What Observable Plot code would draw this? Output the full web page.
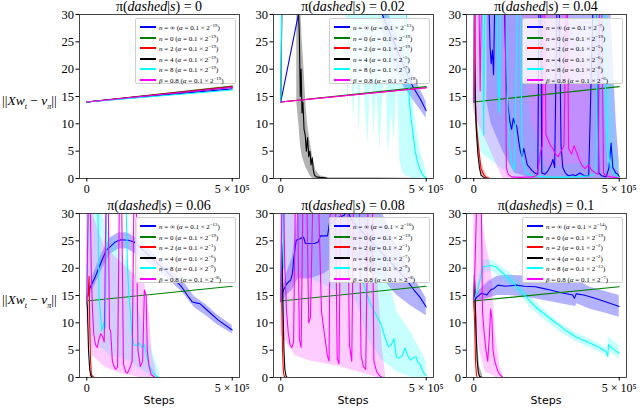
<!DOCTYPE html>
<html><head><meta charset="utf-8">
<script src="https://cdn.jsdelivr.net/npm/d3@7"></script>
<script src="https://cdn.jsdelivr.net/npm/@observablehq/plot@0.6"></script>
<style>
body{margin:0;background:#fff;}
#wrap{position:relative;width:640px;height:408px;overflow:hidden;background:#fff;}
.pl{position:absolute;}
.ttl{position:absolute;font-family:"Liberation Serif",serif;font-size:14px;line-height:14px;text-align:center;white-space:nowrap;color:#000;}
.ylab{position:absolute;font-family:"Liberation Serif",serif;font-size:13.5px;white-space:nowrap;color:#000;}
.xlab{position:absolute;font-family:"DejaVu Sans",sans-serif;font-size:11px;text-align:center;color:#000;}
.leg{position:absolute;background:rgba(255,255,255,0.82);border:1px solid #cfcfcf;border-radius:2px;box-sizing:border-box;z-index:5;}
.row{position:absolute;left:0;height:10px;white-space:nowrap;font-family:"Liberation Serif",serif;font-size:7px;color:#000;}
.sw{position:absolute;left:4px;top:4px;width:16px;height:0;border-top-width:2px;border-top-style:solid;}
.tx{position:absolute;left:23px;top:1px;line-height:10px;}
.tx sup{font-size:4.8px;vertical-align:3px;line-height:0;}
</style></head>
<body><div id="wrap"></div>
<script>
// x values in thousands of steps
// ---------- panel 1: pi(dashed|s)=0 ----------
const p1_blue = [[0,14],[500,16.4]];
const p1_green = [[0,14],[500,16.9]];
const p1_red = [[0,14],[500,16.8]];
const p1_black = [[0,14],[500,16.7]];
const p1_cyan = [[0,14],[500,16.2]];
const p1_magenta = [[0,14],[500,16.7]];

// ---------- panel 2: 0.02 ----------
const p2_blue = [[0,14],[68,32],[349,32],[349,30],[400,23.5],[453,16.9],[480,14.5],[500,12.4]];
const p2_green = [[0,14],[500,16.8]];
const p2_red = [[0,14],[500,16.6]];
const p2_black = [[0,14],[4,32],[60,32],[64,26],[67,15],[70,20],[73,12],[76,14],[80,9],[84,8],[88,5],[92,7.5],[96,4],[100,5],[104,2.5],[108,3.8],[112,1.5],[116,0.6],[122,0.3],[135,0.2],[160,0.1],[500,0]];
const p2_cyan = [[0,14],[3,32],[430,32],[438,22],[442,14],[448,11],[455,8],[462,5],[470,3],[478,1.8],[486,0.8],[494,0.3],[500,0.2]];
const p2_magenta = [[0,14],[500,16.6]];
const p2_blue_band = [[349,27,32],[380,21.5,29],[420,17,23],[460,14,18.5],[500,11,14]];
const p2_black_band = [[55,14,32],[62,10,32],[68,6,32],[74,4,25],[80,3,20],[86,2,14],[92,1.5,10],[100,0.5,7],[110,0,4],[120,0,1.5],[135,0,0.5],[160,0,0.2]];
const p2_cyan_band = [[0,14,32],[4,14,32],[6,32,32],[225,32,32],[230,12,32],[240,26,32],[250,10,32],[260,22,32],[270,8,32],[280,24,32],[290,14,32],[300,6,32],[310,20,32],[320,8,32],[330,17,32],[340,5,32],[350,14,32],[360,22,32],[370,4,32],[380,12,32],[390,7,32],[400,18,32],[410,3,32],[420,1,32],[430,0.5,28],[440,0.3,22],[450,0,16],[460,0,12],[470,0,8],[480,0,5],[490,0,3],[500,0,1.5]];

// ---------- panel 3: 0.04 ----------
const p3_blue = [[0,14],[3,32],[52,32],[56,24],[60,21],[64,23.5],[68,19],[72,32],[100,32],[106,30],[112,17],[118,13],[124,10.5],[130,9],[136,11],[142,10],[148,9.5],[154,7],[160,5],[166,4],[172,5.5],[178,4],[184,2.5],[192,2],[200,1.5],[210,1],[220,0.8],[224,32],[230,32],[234,1],[245,0.8],[256,1.5],[266,2.5],[272,3.5],[278,2],[286,32],[294,32],[300,6],[306,2],[315,1],[325,0.5],[340,0.7],[350,0.5],[365,1],[380,0.5],[395,0.5],[410,32],[424,32],[430,1],[440,0.5],[455,0.3],[465,2],[472,6.5],[478,2],[488,1],[495,0.8],[500,0.3]];
const p3_green = [[0,14],[500,16.8]];
const p3_red = [[0,14],[2,32],[4,32],[6,14],[8,10.6],[14,7],[20,4],[25,1.8],[35,0.6],[43,0.2],[55,0],[500,0]];
const p3_black = [[0,14],[2,22],[4,17],[8,9.4],[14,4.5],[20,1.8],[25,0.6],[35,0.2],[45,0],[500,0]];
const p3_cyan = [[0,14],[2,32],[30,32],[34,8],[38,32],[80,32],[84,17],[88,12],[92,32],[110,32],[116,14],[122,6],[130,3],[140,1.5],[150,32],[160,32],[166,4],[180,1],[200,0.5],[250,0.3],[300,0.2],[350,0.3],[400,0.5],[420,1],[426,32],[448,32],[452,20],[456,10],[462,5],[470,2],[480,1],[490,0.5],[500,0.2]];
const p3_magenta = [[0,14],[4,32],[18,32],[22,16],[26,32],[108,32],[112,2],[118,0.8],[130,0.3],[160,0.2],[200,0.3],[215,0.5],[222,2],[230,5],[236,6],[238,32],[244,32],[248,8],[256,7],[264,6],[272,5.5],[280,4.5],[290,4],[300,5],[310,6],[318,32],[322,32],[326,5.5],[336,4.5],[345,6],[354,4.7],[362,3.5],[371,2.5],[382,1.8],[394,2.5],[405,1.5],[418,1],[428,0.8],[432,32],[440,32],[446,1],[455,0.5],[470,0.3],[485,0.2],[500,0.1]];
const p3_blue_band = [[45,14,32],[60,10,32],[100,5,32],[140,1,32],[200,0,32],[250,0,32],[300,0,32],[350,0,32],[400,0,30],[440,0,32],[470,0,32],[490,0,10],[500,0,3]];
const p3_magenta_band = [[0,12,32],[100,0,32],[230,0,32],[300,0,32],[350,0,25],[400,0,20],[430,0,32],[460,0,3],[500,0,1]];
const p3_cyan_band = [[0,14,32],[20,5,32],[90,2,32],[150,0,32],[200,0,10],[250,0,2],[400,0,3],[420,0,32],[460,0,32],[490,0,5],[500,0,2]];
const p3_red_band = [[0,13,32],[6,12,20],[14,5,9],[25,0.8,3],[45,0,0.5],[60,0,0]];

// ---------- panel 4: 0.06 ----------
const p4_blue = [[0,14.2],[10,16.3],[29,18.4],[48,20.9],[67,23.3],[80,23.9],[98,24.8],[117,25.2],[143,25.1],[162,24.8],[180,24],[212,22.4],[250,20.5],[288,18.7],[326,16.6],[345,15.1],[363,13.8],[380,13.6],[389,13.5],[414,12.3],[452,10.5],[500,8.7]];
const p4_green = [[0,14],[500,16.7]];
const p4_red = [[0,14],[4,15],[8,18.5],[10,10],[13,3],[16,0.5],[25,0],[500,0]];
const p4_black = [[0,14],[2,13],[6,5],[10,1.5],[14,0.3],[20,0],[500,0]];
const p4_cyan = [[0,14],[6,32],[38,32],[42,15],[46,12],[52,8.5],[58,10],[64,9],[68,32],[135,32],[140,20],[145,15],[150,12],[155,8],[162,6],[170,5.8],[180,6.3],[190,5.5],[198,6],[205,4],[215,2.2],[228,0.8],[240,0.2],[250,0],[500,0]];
const p4_magenta = [[0,14],[5,32],[12,32],[16,18],[20,12],[24,8],[30,6],[36,5.5],[42,7],[48,8],[54,7.5],[60,6.5],[66,32],[74,32],[78,9],[82,8.5],[88,3],[94,2],[100,1.5],[106,2],[112,32],[120,32],[126,2.5],[134,1],[140,0.8],[150,2],[156,3],[162,32],[170,32],[176,5],[184,2],[192,3],[198,16],[204,15],[208,5],[214,2],[222,0.5],[235,0],[500,0]];
const p4_blue_band = [[0,13.8,14.6],[20,16,18.5],[50,19.5,22.5],[80,22.5,25.5],[110,23.5,26.5],[140,23.5,26.5],[170,22.5,25.5],[210,21,23.8],[250,19.3,21.7],[290,17.5,19.9],[330,15.5,17.7],[370,12.8,14.8],[410,11.3,13.3],[450,9.6,11.4],[500,8,9.5]];
const p4_magenta_band = [[0,10,32],[20,4,30],[60,2,24],[100,1,22],[140,0.5,20],[180,0,18],[200,0,17],[215,0,12],[225,0,4],[240,0,1]];
const p4_cyan_band = [[0,13,32],[40,6,32],[80,4,26],[150,3,20],[170,2,14],[200,1,9],[230,0,4],[250,0,1]];

// ---------- panel 5: 0.08 ----------
const p5_blue = [[0,14.1],[9,16],[21,17.2],[34,17.8],[40,19],[45,22],[53,25.1],[66,25.4],[78,25.7],[85,24.5],[116,24.5],[129,24.8],[136,25.9],[161,25.9],[167,28.2],[180,28.3],[186,29.1],[205,29.4],[218,29.7],[230,30.5],[243,28.8],[300,25.5],[350,22.7],[400,19.8],[433,17.8],[458,16],[477,14.8],[500,12.9]];
const p5_green = [[0,14],[500,16.7]];
const p5_red = [[0,14],[2,19],[4,12],[6,5],[9,1],[12,0.2],[15,0],[500,0]];
const p5_black = [[0,14],[3,24.5],[5,21],[8,12],[11,5],[14,1.5],[18,0.3],[22,0],[500,0]];
const p5_cyan = [[0,14],[3,32],[8,32],[10,20],[12,32],[262,32],[268,28],[275,22],[285,17],[294,15.4],[306,13.8],[319,12.3],[332,11],[344,9.9],[357,7.5],[370,5.6],[380,6],[389,7.1],[397,3.8],[405,3.5],[414,3.8],[421,4.5],[427,5.4],[436,4],[446,3.2],[455,3.6],[465,3.8],[471,2.8],[477,2.6],[485,1.5],[492,0.8],[500,0.3]];
const p5_magenta = [[0,14],[4,32],[10,32],[14,20],[20,12],[26,8],[32,6],[38,5.5],[44,6.5],[50,32],[58,32],[64,7],[70,5.5],[76,32],[90,32],[96,10],[102,11],[110,32],[130,32],[140,12],[150,8],[160,4],[166,3],[170,32],[188,32],[194,3.5],[200,2.5],[206,32],[230,32],[236,6],[244,3],[250,32],[270,32],[276,4],[284,2],[292,1.5],[300,32],[315,32],[320,3],[330,1],[340,0.3],[350,0],[500,0]];
const p5_blue_band = [[0,13.5,14.7],[20,15,19],[40,16,22],[60,18,30],[100,18,32],[150,19,32],[200,21,32],[250,22,32],[300,20,32],[350,18,30],[400,15,24],[450,13,19],[500,11.3,14.5]];
const p5_magenta_band = [[0,8,32],[50,4,32],[100,3,32],[200,2,32],[300,0.5,32],[330,0,20],[350,0,5],[360,0,0.5]];
const p5_cyan_band = [[0,13,32],[20,10,32],[30,20,32],[260,14,32],[300,7,30],[350,3,22],[400,1,12],[450,0,8],[500,0,3]];

// ---------- panel 6: 0.1 ----------
const p6_blue = [[0,14.1],[13,14.8],[26,15.4],[45,15.1],[58,16],[70,16.3],[83,16.9],[109,16.7],[147,16.9],[173,16.7],[212,16.6],[237,16.3],[263,16],[301,15.5],[340,15.1],[346,14.5],[352,15.3],[378,15.1],[417,14.5],[455,13.8],[500,13]];
const p6_green = [[0,14],[500,16.6]];
const p6_red = [[0,14],[3,10],[6,3],[9,0.5],[12,0],[500,0]];
const p6_black = [[0,14],[3,18],[5,14],[8,8],[12,3],[16,0.8],[20,0.2],[30,0],[500,0]];
const p6_cyan = [[0,14.1],[13,16],[32,20.2],[58,20.5],[77,20.2],[96,19.3],[122,18.1],[147,16.6],[173,15.1],[212,12.9],[263,10.8],[314,8.7],[352,7.4],[391,6.5],[429,5.6],[455,4.7],[461,3.9],[463,6],[480,5.2],[500,4.4]];
const p6_magenta = [[0,14],[5,22],[10,32],[26,32],[30,12],[36,8],[42,5],[48,3],[54,8],[58,12.5],[62,11],[66,5],[72,3],[78,2],[84,1],[90,0.5],[100,0],[500,0]];
const p6_blue_band = [[0,13.8,14.4],[20,14,16],[50,14.5,17.5],[80,15,18.5],[120,15,18.7],[160,14.8,18.6],[200,14.5,18.3],[250,14,18],[300,13.5,17.5],[350,13,17.5],[355,13.5,17.8],[400,12.5,16.5],[450,11.8,15.8],[500,11,15]];
const p6_cyan_band = [[0,13.8,14.4],[15,15,17.5],[30,19,21.5],[60,19.5,21.5],[90,18.5,20.5],[120,17,19.3],[150,15.5,17.8],[200,12.5,14.5],[250,10.2,12],[300,8.2,9.8],[350,6.6,8.2],[400,5.4,7],[450,4.2,5.6],[460,3.4,5.2],[462,5,7.5],[500,3.3,5.8]];
const p6_magenta_band = [[0,13,32],[20,5,32],[40,1,25],[60,0.5,20],[75,0,8],[90,0,2],[100,0,0.5]];
const p6_black_band = [[0,13,18.5],[5,12,19],[10,5,12],[15,1,5],[20,0,2],[30,0,0.5]];

// ---------- labels ----------
const titles = ["0","0.02","0.04","0.06","0.08","0.1"];
const legendNames = ["n = ∞","n = 0","n = 2","n = 4","n = 8","β = 0.8"];
const p1_alpha = ["19","19","19","19","19","19"];
const p2_alpha = ["13","19","19","5","7","19"];
const p3_alpha = ["7","19","5","6","8","6"];
const p4_alpha = ["13","19","1","6","9","8"];
const p5_alpha = ["10","19","1","7","9","8"];
const p6_alpha = ["14","19","2","2","12","7"];
const yTicks = [0,5,10,15,20,25,30];
const xTicks = [0,500];

const seriesKeys = ["blue","green","red","black","cyan","magenta"];
const colors = {blue:"#0000ff",green:"#008000",red:"#ff0000",black:"#000000",cyan:"#00ffff",magenta:"#ff00ff"};
const bandOpacity = {blue:0.3,green:0.25,red:0.25,black:0.3,cyan:0.22,magenta:0.2};

const panels = [
  {lines:{blue:p1_blue,green:p1_green,red:p1_red,black:p1_black,cyan:p1_cyan,magenta:p1_magenta}, bands:{}, alpha:p1_alpha},
  {lines:{blue:p2_blue,green:p2_green,red:p2_red,black:p2_black,cyan:p2_cyan,magenta:p2_magenta}, bands:{blue:p2_blue_band,black:p2_black_band,cyan:p2_cyan_band}, alpha:p2_alpha},
  {lines:{blue:p3_blue,green:p3_green,red:p3_red,black:p3_black,cyan:p3_cyan,magenta:p3_magenta}, bands:{blue:p3_blue_band,red:p3_red_band,cyan:p3_cyan_band,magenta:p3_magenta_band}, alpha:p3_alpha},
  {lines:{blue:p4_blue,green:p4_green,red:p4_red,black:p4_black,cyan:p4_cyan,magenta:p4_magenta}, bands:{blue:p4_blue_band,cyan:p4_cyan_band,magenta:p4_magenta_band}, alpha:p4_alpha},
  {lines:{blue:p5_blue,green:p5_green,red:p5_red,black:p5_black,cyan:p5_cyan,magenta:p5_magenta}, bands:{blue:p5_blue_band,cyan:p5_cyan_band,magenta:p5_magenta_band}, alpha:p5_alpha},
  {lines:{blue:p6_blue,green:p6_green,red:p6_red,black:p6_black,cyan:p6_cyan,magenta:p6_magenta}, bands:{blue:p6_blue_band,black:p6_black_band,cyan:p6_cyan_band,magenta:p6_magenta_band}, alpha:p6_alpha}
];

// layout
const lefts = [79, 273, 466];
const tops = [14, 213];
const PW = 160, PH = 164;
const ML = 30, MR = 14, MT = 4, MB = 24;

const wrap = document.getElementById("wrap");

panels.forEach((p, i) => {
  const col = i % 3, row = Math.floor(i / 3);
  const L = lefts[col], T = tops[row];
  const marks = [];
  seriesKeys.forEach(k => {
    if (p.bands[k]) marks.push(Plot.areaY(p.bands[k], {x: d => d[0], y1: d => d[1], y2: d => d[2], fill: colors[k], fillOpacity: bandOpacity[k], clip: true}));
  });
  seriesKeys.forEach(k => {
    marks.push(Plot.lineY(p.lines[k], {x: d => d[0], y: d => d[1], stroke: colors[k], strokeWidth: 1.1, clip: true}));
  });
  marks.push(Plot.frame({stroke: "#333", strokeWidth: 0.9}));
  marks.push(Plot.axisY({ticks: yTicks, tickSize: 3.5, tickPadding: 2, fontSize: 12.5, label: null}));
  marks.push(Plot.axisX({ticks: xTicks, tickSize: 3.5, tickPadding: 2, fontSize: 12, label: null,
    tickFormat: d => d === 0 ? "0" : "5 × 10⁵"}));
  const svg = Plot.plot({
    width: PW + ML + MR, height: PH + MT + MB,
    marginLeft: ML, marginRight: MR, marginTop: MT, marginBottom: MB,
    x: {domain: [-25, 525]},
    y: {domain: [0, 30]},
    style: {fontFamily: "Liberation Serif, serif", fontSize: "12.5px", background: "transparent", overflow: "visible", color: "#000"},
    marks
  });
  svg.classList.add("pl");
  svg.style.left = (L - ML) + "px";
  svg.style.top = (T - MT) + "px";
  wrap.appendChild(svg);

  // title
  const t = document.createElement("div");
  t.className = "ttl";
  t.style.left = L + "px"; t.style.width = PW + "px"; t.style.top = (T - 14) + "px";
  t.innerHTML = "π(<i>dashed</i>|<i>s</i>) = " + titles[i];
  wrap.appendChild(t);

  // legend
  const lg = document.createElement("div");
  lg.className = "leg";
  const LW = 101, LH = 66;
  lg.style.left = (L + PW - LW - 3) + "px";
  lg.style.top = (T + 4) + "px";
  lg.style.width = LW + "px"; lg.style.height = LH + "px";
  seriesKeys.forEach((k, j) => {
    const r = document.createElement("div");
    r.className = "row";
    r.style.top = (3 + Math.round(j * 10.6)) + "px";
    const nm = legendNames[j].replace(/^n/, "<i>n</i>").replace(/^β/, "<i>β</i>");
    r.innerHTML = `<span class="sw" style="border-top-color:${colors[k]}"></span><span class="tx">${nm} (<i>α</i> = 0.1 × 2<sup>−${p.alpha[j]}</sup>)</span>`;
    lg.appendChild(r);
  });
  wrap.appendChild(lg);

  if (col === 0) {
    const y = document.createElement("div");
    y.className = "ylab";
    y.style.left = "2px"; y.style.top = (T + 79) + "px";
    y.innerHTML = "||<i>Xw<sub style='font-size:8px'>t</sub></i> − <i>v<sub style='font-size:8px'>π</sub></i>||";
    wrap.appendChild(y);
  }
  if (row === 1) {
    const s = document.createElement("div");
    s.className = "xlab";
    s.style.left = L + "px"; s.style.width = PW + "px"; s.style.top = (T + PH + 17) + "px";
    s.textContent = "Steps";
    wrap.appendChild(s);
  }
});
</script>
</body></html>
